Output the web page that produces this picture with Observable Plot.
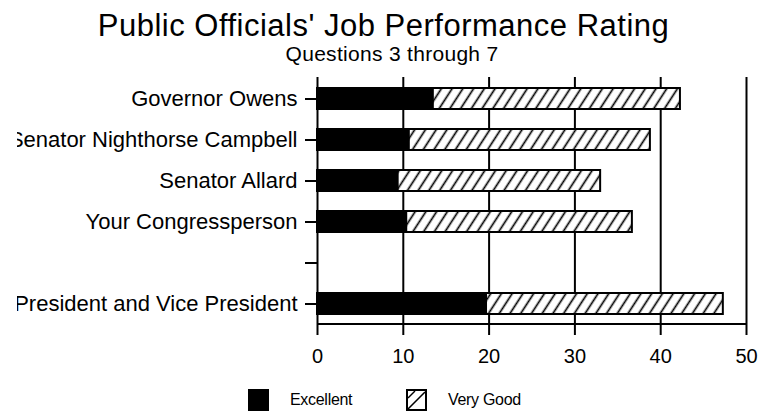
<!DOCTYPE html>
<html><head><meta charset="utf-8">
<script src="https://cdn.jsdelivr.net/npm/d3@7"></script>
<script src="https://cdn.jsdelivr.net/npm/@observablehq/plot@0.6"></script>
<style>
body{margin:0;background:#fff;font-family:"Liberation Sans",Arial,sans-serif;color:#000;}
#wrap{position:relative;width:769px;height:411px;overflow:hidden;background:#fff;}
#title{position:absolute;left:84px;width:599px;top:12px;height:28px;text-align:center;font-size:31px;line-height:28px;letter-spacing:0.5px;white-space:nowrap;}
#sub{position:absolute;left:192px;width:400px;top:43px;text-align:center;font-size:21px;line-height:1;letter-spacing:0.3px;white-space:nowrap;}
#chart{position:absolute;left:0;top:66px;clip-path:inset(0 0 0 17px);}
.sw{position:absolute;top:389px;}
.lt{position:absolute;top:392px;font-size:16px;line-height:1;letter-spacing:-0.3px;white-space:nowrap;}
</style></head><body>
<div id="wrap">
  <div id="title">Public Officials' Job Performance Rating</div>
  <div id="sub">Questions 3 through 7</div>
  <div id="chart"></div>
  <div id="legend"></div>
</div>
<script>
const officials = ["Governor Owens","Senator Nighthorse Campbell","Senator Allard","Your Congressperson"," ","President and Vice President"];
const excellent = [13.5, 10.7, 9.4, 10.4, null, 19.7];
const veryGood = [28.8, 28.1, 23.6, 26.3, null, 27.6];
const xTicks = [0, 10, 20, 30, 40, 50];
const seriesNames = ["Excellent", "Very Good"];

const rows = officials.map((name, i) => ({name, excellent: excellent[i], veryGood: veryGood[i]}))
  .filter(d => d.excellent != null);

const W = 769, H = 304;
const plot = Plot.plot({
  width: W, height: H,
  marginTop: 11, marginBottom: 46, marginLeft: 317, marginRight: 23,
  style: {fontFamily: "Liberation Sans, Arial, sans-serif", fontSize: "22px", color: "black", background: "white", overflow: "visible"},
  x: {domain: [0, 50]},
  y: {domain: officials, paddingInner: 0.5, paddingOuter: 0.25},
  marks: [
    Plot.gridX(xTicks.slice(1), {stroke: "black", strokeOpacity: 1, strokeWidth: 2}),
    Plot.ruleX([0], {stroke: "black", strokeWidth: 2}),
    (index, scales, values, dims) => {
      const y = dims.height - dims.marginBottom;
      return d3.create("svg:line")
        .attr("x1", dims.marginLeft).attr("x2", dims.width - dims.marginRight)
        .attr("y1", y).attr("y2", y)
        .attr("stroke", "black").attr("stroke-width", 2).node();
    },
    Plot.barX(rows, {y: "name", x1: 0, x2: "excellent", fill: "black", stroke: "black", strokeWidth: 2}),
    Plot.barX(rows, {y: "name", x1: "excellent", x2: d => d.excellent + d.veryGood, fill: "url(#hatch)", stroke: "black", strokeWidth: 2}),
    Plot.axisY({tickSize: 12, tickPadding: 8, fontSize: 22, strokeWidth: 2, label: null, color: "black"}),
    Plot.axisX(xTicks, {tickSize: 11, tickPadding: 13, fontSize: 20, strokeWidth: 2, label: null, color: "black"})
  ]
});
const svg = d3.select(plot);
const defs = svg.insert("defs", ":first-child");
const p = defs.append("pattern").attr("id", "hatch").attr("patternUnits", "userSpaceOnUse")
  .attr("width", 9).attr("height", 9).attr("patternTransform", "rotate(33)");
p.append("rect").attr("width", 9).attr("height", 9).attr("fill", "white");
p.append("line").attr("x1", 4.5).attr("y1", -1).attr("x2", 4.5).attr("y2", 10).attr("stroke", "black").attr("stroke-width", 1.7);
document.getElementById("chart").appendChild(plot);

// legend
const leg = document.getElementById("legend");
const swX = [248, 406], txX = [290, 448];
seriesNames.forEach((s, i) => {
  const sw = document.createElementNS("http://www.w3.org/2000/svg", "svg");
  sw.setAttribute("width", 22); sw.setAttribute("height", 22);
  sw.setAttribute("class", "sw");
  sw.style.left = swX[i] + "px";
  if (i === 0) {
    sw.innerHTML = '<rect x="1" y="1" width="19" height="20" fill="black" stroke="black" stroke-width="2"/>';
  } else {
    sw.innerHTML = '<rect x="1" y="1" width="19" height="20" fill="white" stroke="black" stroke-width="2"/>' +
      '<line x1="2" y1="20" x2="19" y2="3" stroke="black" stroke-width="1.6"/>' +
      '<line x1="2" y1="9" x2="9" y2="2" stroke="black" stroke-width="1.4"/>';
  }
  leg.appendChild(sw);
  const t = document.createElement("div");
  t.className = "lt";
  t.style.left = txX[i] + "px";
  t.textContent = s;
  leg.appendChild(t);
});
</script>
</body></html>
